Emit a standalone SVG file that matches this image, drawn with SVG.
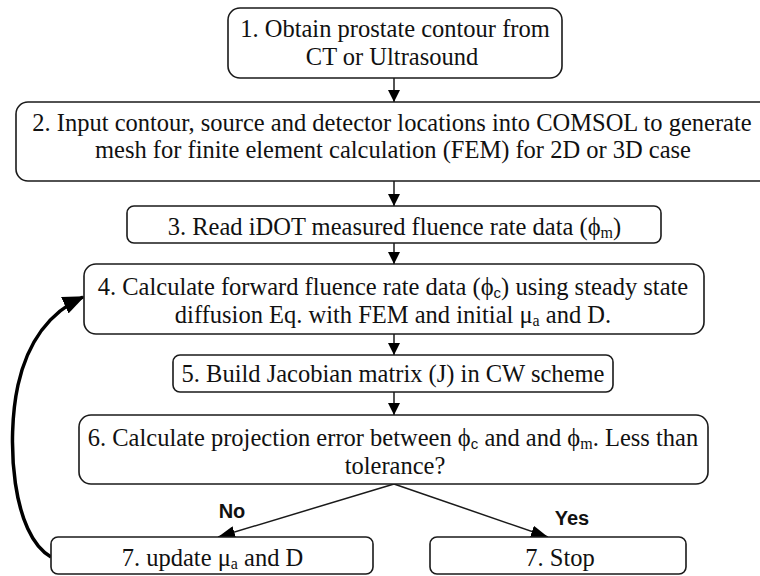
<svg xmlns="http://www.w3.org/2000/svg" width="760" height="576" viewBox="0 0 760 576">
  <style>
    .box { fill: #ffffff; stroke: #1a1a1a; stroke-width: 1.6; }
    .edge { fill: none; stroke: #1a1a1a; stroke-width: 1.5; }
    .loop { fill: none; stroke: #000; stroke-width: 3.5; }
    .t { font-family: 'Liberation Serif', 'Times New Roman', serif; font-size: 24.5px; fill: #111; text-anchor: middle; }
    .sub { font-size: 16px; }
    .subs { font-family: 'Liberation Sans', Arial, sans-serif; font-size: 15px; }
    .lbl { font-family: 'Liberation Sans', Arial, sans-serif; font-size: 20px; font-weight: bold; fill: #111; text-anchor: middle; }
  </style>
  <defs>
    <marker id="arr" markerUnits="userSpaceOnUse" markerWidth="12" markerHeight="12" refX="12" refY="6" orient="auto">
      <path d="M0,0 L12,6 L0,12 Z" fill="#000"/>
    </marker>
    <marker id="arrBig" markerUnits="userSpaceOnUse" markerWidth="17" markerHeight="12" refX="17" refY="6" orient="auto">
      <path d="M0,0 L17,6 L0,12 Z" fill="#000"/>
    </marker>
    <marker id="arrLoop" markerUnits="userSpaceOnUse" markerWidth="22" markerHeight="18" refX="20" refY="9" orient="auto">
      <path d="M0,0 L22,9 L0,18 Z" fill="#000"/>
    </marker>
  </defs>

  <!-- flow connectors and branch labels -->
  <g id="connectors">
    <line class="edge" x1="394" y1="78" x2="394" y2="102" marker-end="url(#arr)"/>
    <line class="edge" x1="394" y1="181" x2="394" y2="206" marker-end="url(#arr)"/>
    <line class="edge" x1="394" y1="243" x2="394" y2="264" marker-end="url(#arr)"/>
    <line class="edge" x1="394" y1="334" x2="394" y2="355" marker-end="url(#arr)"/>
    <line class="edge" x1="394" y1="392" x2="394" y2="415" marker-end="url(#arr)"/>
    <line class="edge" x1="394" y1="484" x2="218" y2="537" marker-end="url(#arrBig)"/>
    <line class="edge" x1="394" y1="484" x2="548" y2="537" marker-end="url(#arrBig)"/>
    <path class="loop" d="M51,557 C12,535 6,440 18,385 C28,340 50,312 83,297" marker-end="url(#arrLoop)"/>
    <text class="lbl" x="232" y="518">No</text>
    <text class="lbl" x="572" y="525">Yes</text>
  </g>

  <g id="step1">
    <rect class="box" x="228" y="8" width="334" height="70" rx="12"/>
    <text class="t" x="395" y="37">1. Obtain prostate contour from</text>
    <text class="t" x="392" y="65">CT or Ultrasound</text>
  </g>

  <g id="step2">
    <rect class="box" x="16" y="102" width="770" height="79" rx="12"/>
    <text class="t" x="392" y="131">2. Input contour, source and detector locations into COMSOL to generate</text>
    <text class="t" x="393" y="158">mesh for finite element calculation (FEM) for 2D or 3D case</text>
  </g>

  <g id="step3">
    <rect class="box" x="127" y="206" width="534" height="37" rx="7"/>
    <text class="t" x="394.5" y="235">3. Read iDOT measured fluence rate data (ϕ<tspan class="sub" dy="3">m</tspan><tspan dy="-3">)</tspan></text>
  </g>

  <g id="step4">
    <rect class="box" x="84" y="264" width="620" height="70" rx="12"/>
    <text class="t" x="393" y="295">4. Calculate forward fluence rate data (ϕ<tspan class="subs" dy="3">c</tspan><tspan dy="-3">) using steady state</tspan></text>
    <text class="t" x="393" y="323">diffusion Eq. with FEM and initial μ<tspan class="sub" dy="3">a</tspan><tspan dy="-3"> and D.</tspan></text>
  </g>

  <g id="step5">
    <rect class="box" x="173" y="355" width="440" height="37" rx="7"/>
    <text class="t" x="393" y="382">5. Build Jacobian matrix (J) in CW scheme</text>
  </g>

  <g id="step6">
    <rect class="box" x="79" y="415" width="629" height="69" rx="12"/>
    <text class="t" x="393" y="446">6. Calculate projection error between ϕ<tspan class="subs" dy="3">c</tspan><tspan dy="-3"> and and ϕ</tspan><tspan class="sub" dy="3">m</tspan><tspan dy="-3">. Less than</tspan></text>
    <text class="t" x="395" y="474">tolerance?</text>
  </g>

  <g id="step7-update">
    <rect class="box" x="51" y="537" width="322" height="37" rx="7"/>
    <text class="t" x="212.5" y="566">7. update μ<tspan class="sub" dy="3">a</tspan><tspan dy="-3"> and D</tspan></text>
  </g>

  <g id="step7-stop">
    <rect class="box" x="430" y="537" width="256" height="37" rx="7"/>
    <text class="t" x="560" y="566">7. Stop</text>
  </g>
</svg>
